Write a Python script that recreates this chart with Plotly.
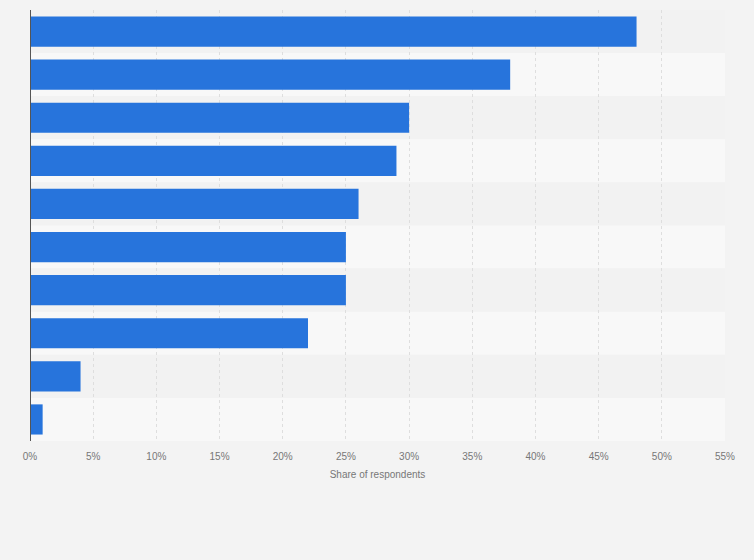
import plotly.graph_objects as go

categories = ["Item 1", "Item 2", "Item 3", "Item 4", "Item 5",
              "Item 6", "Item 7", "Item 8", "Item 9", "Item 10"]
values = [48, 38, 30, 29, 26, 25, 25, 22, 4, 1]
tick_vals = [0, 5, 10, 15, 20, 25, 30, 35, 40, 45, 50, 55]
tick_text = [f"{v}%" for v in tick_vals]
x_title = "Share of respondents"

n = len(categories)
fig = go.Figure(go.Bar(
    x=values, y=list(range(n)), orientation="h",
    marker=dict(color="#2774dc", line=dict(width=0)),
    width=0.7, hoverinfo="x",
))

shapes = []
for i in range(n):
    shapes.append(dict(type="rect", xref="paper", yref="y", x0=0, x1=1,
                       y0=i - 0.5, y1=i + 0.5, layer="below", line=dict(width=0),
                       fillcolor="#f2f2f2" if i % 2 == 0 else "#f8f8f8"))

fig.update_layout(
    width=754, height=560,
    margin=dict(l=30, r=29, t=10, b=119),
    paper_bgcolor="#f3f3f3", plot_bgcolor="#f3f3f3",
    font=dict(family="Liberation Sans, Arial, sans-serif", size=10, color="#777777"),
    showlegend=False,
    shapes=shapes,
    xaxis=dict(range=[0, 55], tickvals=tick_vals, ticktext=tick_text,
               showgrid=True, gridcolor="#dedede", griddash="dot", gridwidth=1,
               zeroline=False, ticks="outside", ticklen=6, tickcolor="rgba(0,0,0,0)",
               title=dict(text=x_title, font=dict(size=10, color="#777777"), standoff=9),
               fixedrange=True),
    yaxis=dict(range=[n - 0.5, -0.5], showticklabels=False, showgrid=False,
               zeroline=False, showline=False, fixedrange=True),
    bargap=0.3,
)
fig.add_shape(type="line", xref="x", yref="paper", x0=0, x1=0, y0=0, y1=1,
              line=dict(color="#555555", width=2))

fig.write_html("out.html", config={"displayModeBar": False},
               post_script="document.body.style.margin='0';")
